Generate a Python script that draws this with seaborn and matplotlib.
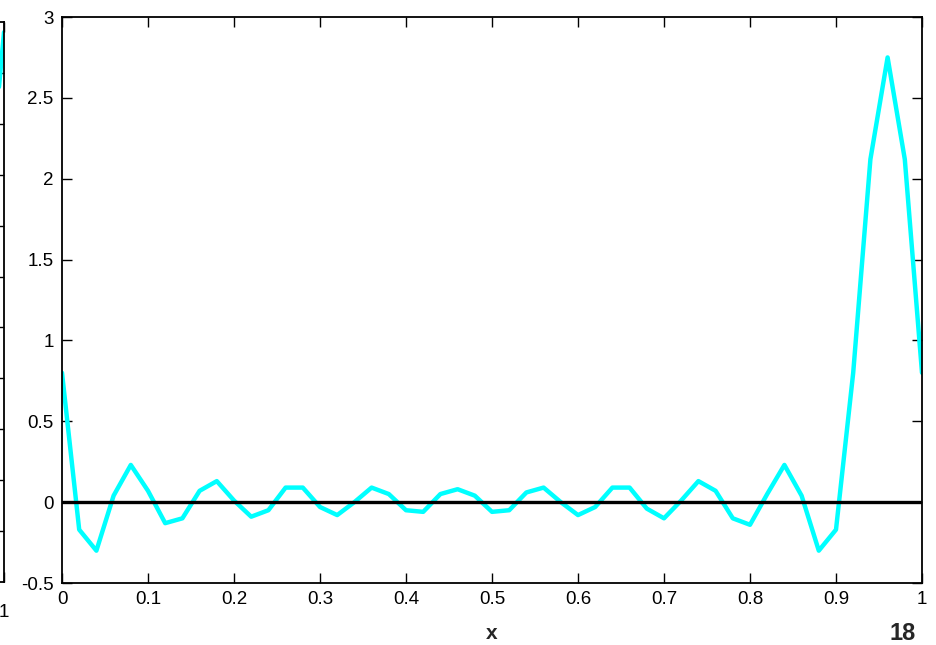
import matplotlib
matplotlib.use('Agg')
import matplotlib.pyplot as plt
import seaborn as sns

# sample points of the cyan curve
x_vals = [0.00, 0.02, 0.04, 0.06, 0.08, 0.10, 0.12, 0.14, 0.16, 0.18,
          0.20, 0.22, 0.24, 0.26, 0.28, 0.30, 0.32, 0.34, 0.36, 0.38,
          0.40, 0.42, 0.44, 0.46, 0.48, 0.50, 0.52, 0.54, 0.56, 0.58,
          0.60, 0.62, 0.64, 0.66, 0.68, 0.70, 0.72, 0.74, 0.76, 0.78,
          0.80, 0.82, 0.84, 0.86, 0.88, 0.90, 0.92, 0.94, 0.96, 0.98,
          1.00]
y_vals = [0.80, -0.17, -0.30, 0.04, 0.23, 0.07, -0.13, -0.10, 0.07, 0.13,
          0.01, -0.09, -0.05, 0.09, 0.09, -0.03, -0.08, 0.00, 0.09, 0.05,
          -0.05, -0.06, 0.05, 0.08, 0.04, -0.06, -0.05, 0.06, 0.09, 0.00,
          -0.08, -0.03, 0.09, 0.09, -0.04, -0.10, 0.01, 0.13, 0.07, -0.10,
          -0.14, 0.05, 0.23, 0.04, -0.30, -0.17, 0.80, 2.12, 2.75, 2.12,
          0.80]

zero_x = [0.0, 1.0]
zero_y = [0.0, 0.0]

xticks = [0, 0.1, 0.2, 0.3, 0.4, 0.5, 0.6, 0.7, 0.8, 0.9, 1]
xtick_labels = ['0', '0.1', '0.2', '0.3', '0.4', '0.5', '0.6', '0.7', '0.8', '0.9', '1']
yticks = [-0.5, 0, 0.5, 1, 1.5, 2, 2.5, 3]
ytick_labels = ['-0.5', '0', '0.5', '1', '1.5', '2', '2.5', '3']

# the neighbouring (cut off) panel on the left edge
left_x = [0.98, 1.0]
left_y = [0.62, 1.36]
left_yticks = [-0.6, -0.4, -0.2, 0, 0.2, 0.4, 0.6, 0.8, 1.0, 1.2]

sns.set_theme(style='white')
plt.rcParams['font.family'] = ['Liberation Sans', 'DejaVu Sans']

fig = plt.figure(figsize=(9.36, 6.45), dpi=100)


def style_axes(ax, pad=6):
    for s in ax.spines.values():
        s.set_visible(True)
        s.set_color('black')
        s.set_linewidth(1.3)
    ax.tick_params(direction='in', length=7, width=1.0, color='black',
                   top=True, right=True, bottom=True, left=True,
                   labelsize=13.5, labelcolor='black', pad=pad)


# left fragment
axl = fig.add_axes([(4 - 860) / 936, 63 / 645, 860 / 936, 560 / 645])
sns.lineplot(x=left_x, y=left_y, ax=axl, color='cyan', linewidth=3.2)
axl.set_xlim(0, 1)
axl.set_ylim(-0.8, 1.4)
style_axes(axl, pad=16)
axl.set_xticks([1])
axl.set_xticklabels(['1'])
axl.set_yticks(left_yticks)
axl.set_yticklabels([])
axl.set_xlabel('')
axl.set_ylabel('')

# main panel
ax = fig.add_axes([62 / 936, 62 / 645, 860 / 936, 566 / 645])
sns.lineplot(x=x_vals, y=y_vals, ax=ax, color='cyan', linewidth=3.2)
sns.lineplot(x=zero_x, y=zero_y, ax=ax, color='black', linewidth=2.4)
ax.set_xlim(0, 1)
ax.set_ylim(-0.5, 3)
style_axes(ax)
ax.set_xticks(xticks)
ax.set_xticklabels(xtick_labels)
ax.set_yticks(yticks)
ax.set_yticklabels(ytick_labels)
ax.set_ylabel('')
ax.set_xlabel('x', fontsize=15, fontweight='bold', labelpad=11)

fig.text(903 / 936, 1 - 633 / 645, '18', fontsize=17, fontweight='bold',
         ha='center', va='center')

fig.savefig('out.png', dpi=100)
